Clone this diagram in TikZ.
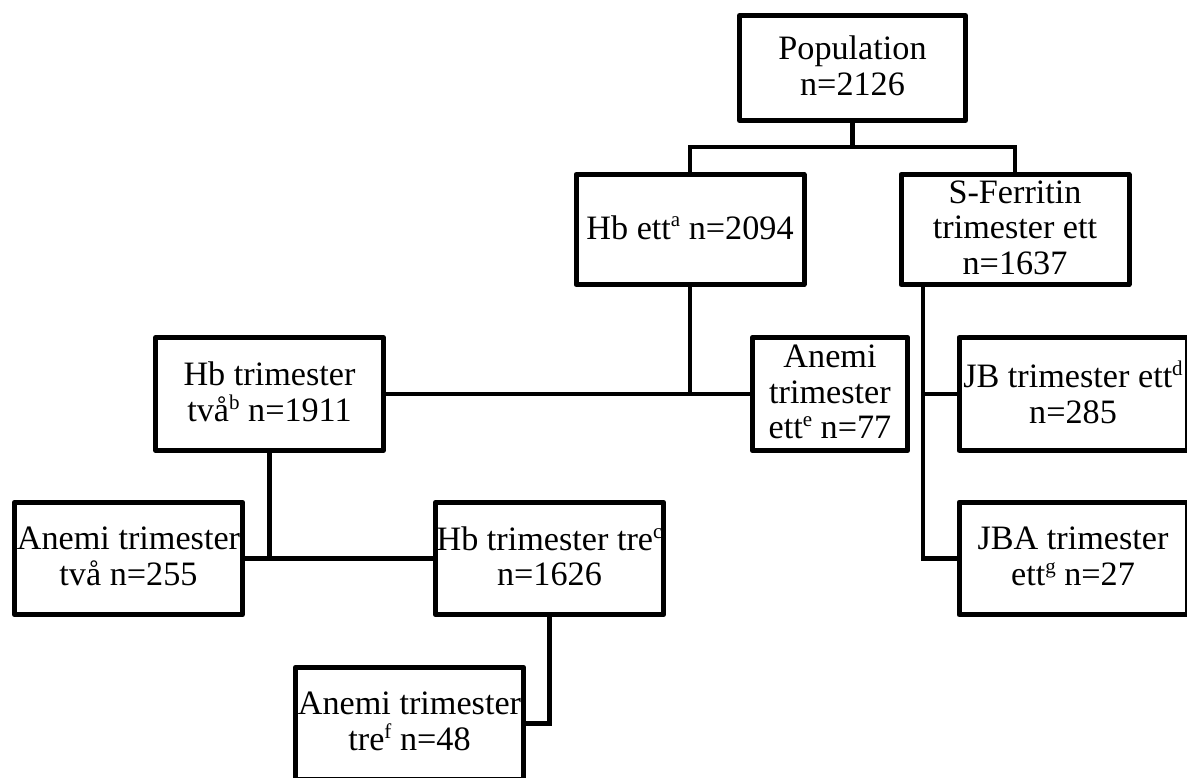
\documentclass[tikz,border=0pt]{standalone}
\usepackage{fontspec}
\setmainfont{Liberation Serif}
\newcommand{\supx}[1]{\raisebox{0.36em}{\fontsize{21}{21}\selectfont #1}}
\begin{document}
\begin{tikzpicture}[x=1pt,y=-1pt,
  box/.style={draw, line width=5pt, line join=round, inner sep=0pt, outer sep=0pt,
    minimum width=228pt, minimum height=112.5pt},
  conn/.style={line width=4.5pt},
  txt/.style={align=center, inner sep=0pt, outer sep=0pt, yshift=2pt,
    font=\fontsize{34.2}{35.5}\selectfont}]
\clip (0,0) rectangle (1187,778);
\fill[white] (0,0) rectangle (1187,778);
% boxes
\node[box, minimum width=226pt, minimum height=105pt] (pop) at (852.5,68) {};
\node[box, minimum height=110pt] (hbett) at (690,229.5) {};
\node[box, minimum height=110pt] (sfer) at (1015,229.5) {};
\node[box] (hbtva) at (269.5,394) {};
\node[box, minimum width=155pt, minimum height=113.5pt] (aett) at (830,394) {};
\node[box] (jb) at (1073,394) {};
\node[box] (atva) at (128.5,558.5) {};
\node[box] (hbtre) at (549.5,558.5) {};
\node[box] (jba) at (1073,558.5) {};
\node[box] (atre) at (409.5,723.5) {};
% texts
\node[txt] (popt) at (pop) {Population\\n=2126};
\node[txt] (hbettt) at (hbett) {Hb ett\supx{a} n=2094};
\node[txt] (sfert) at (sfer) {S-Ferritin\\trimester ett\\n=1637};
\node[txt] (hbtvat) at (hbtva) {Hb trimester\\två\supx{b} n=1911};
\node[txt] (aettt) at (aett) {Anemi\\trimester\\ett\supx{e} n=77};
\node[txt] (jbt) at (jb) {JB trimester ett\supx{d}\\n=285};
\node[txt] (atvat) at (atva) {Anemi trimester\\två n=255};
\node[txt] (hbtret) at (hbtre) {Hb trimester tre\supx{c}\\n=1626};
\node[txt] (jbat) at (jba) {JBA trimester\\ett\supx{g} n=27};
\node[txt] (atret) at (atre) {Anemi trimester\\tre\supx{f} n=48};
% connectors
\coordinate (c1) at (690,147);
\coordinate (c2) at (1015,147);
\coordinate (sx) at (923,558.5);
\draw[conn] (pop.south) -- (pop.south |- c1);
\draw[conn] (hbett.north) -- (c1) -- (c2) -- (sfer.north);
\draw[conn] (hbtva.east) -- (aett.west);
\draw[conn] (hbett.south) -- (hbett.south |- aett.west);
\draw[conn] (sfer.south -| sx) -- (sx) -- (jba.west);
\draw[conn] (jb.west -| sx) -- (jb.west);
\draw[conn] (hbtva.south) -- (hbtva.south |- atva.east);
\draw[conn] (atva.east) -- (hbtre.west);
\draw[conn] (hbtre.south) |- (atre.east);
\end{tikzpicture}
\end{document}
